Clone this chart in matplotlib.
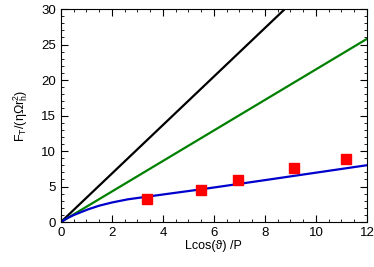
import numpy as np
import matplotlib
matplotlib.use("Agg")
import matplotlib.pyplot as plt
from matplotlib.ticker import MultipleLocator

plt.rcParams['font.family'] = ['Liberation Sans', 'DejaVu Sans']
plt.rcParams['mathtext.fontset'] = 'custom'
plt.rcParams['mathtext.rm'] = 'Liberation Sans'
plt.rcParams['mathtext.it'] = 'Liberation Sans'

# straight lines
x_line = [0, 12]
black_y = [0, 41.0]
green_y = [0, 25.8]

# blue curve
blue_x = [0, 0.25, 0.5, 0.67, 1.06, 1.5, 2.0, 2.63, 3.38, 4.5, 5.49, 7.0, 8.0, 10.0, 12.0]
blue_y = [0, 0.55, 0.98, 1.22, 1.78, 2.3, 2.75, 3.2, 3.57, 4.12, 4.6, 5.38, 5.9, 6.95, 8.0]

# measured points
pts_x = [3.38, 5.49, 6.95, 9.14, 11.2]
pts_y = [3.2, 4.5, 5.87, 7.65, 8.9]

fig = plt.figure(figsize=(3.74, 2.67), dpi=100)
ax = fig.add_axes([0.163, 0.1685, 0.818, 0.7975])

ax.plot(x_line, black_y, color='black', lw=1.6)
ax.plot(x_line, green_y, color='#008000', lw=1.6)
ax.plot(blue_x, blue_y, color='#0000cc', lw=1.6)
ax.plot(pts_x, pts_y, 's', color='#ff0000', ms=6.5, mec='#ff0000')

ax.set_xlim(0, 12)
ax.set_ylim(0, 30)
ax.xaxis.set_major_locator(MultipleLocator(2))
ax.xaxis.set_minor_locator(MultipleLocator(0.5))
ax.yaxis.set_major_locator(MultipleLocator(5))
ax.yaxis.set_minor_locator(MultipleLocator(1))
ax.tick_params(which='both', direction='in', top=True, right=True, labelsize=9.5)
ax.tick_params(which='major', length=5)
ax.tick_params(which='minor', length=2.5)

ax.set_xlabel('Lcos(\u03d1) /P', fontsize=9, labelpad=1)
ax.set_ylabel('F$_{\\rm T}$/(\u03b7\u03a9r$_{\\rm h}^{2}$)', fontsize=9, labelpad=8)

fig.savefig('out.png', dpi=100)
